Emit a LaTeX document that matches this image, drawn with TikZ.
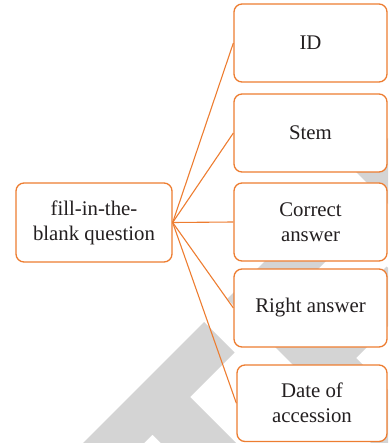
\documentclass[tikz,border=0pt]{standalone}
\usepackage{fontspec}
\setmainfont{Liberation Serif}
\definecolor{boxorange}{RGB}{237,125,49}
\definecolor{inkdark}{RGB}{35,31,32}
\definecolor{markgray}{RGB}{212,212,212}
\tikzset{
  itembox/.style={draw=boxorange, line width=1.3pt, fill=white, rounded corners=8pt,
    align=center, text=inkdark, inner sep=2pt,
    font=\fontsize{20.8pt}{25pt}\selectfont},
  link/.style={draw=boxorange, line width=1.1pt}
}
\begin{document}
\begin{tikzpicture}[x=1pt,y=-1pt]
\useasboundingbox (0,0) rectangle (388,443);
% faint lettering in the background
\begin{scope}
  \clip (0,0) rectangle (388,443);
  \fill[markgray] (-37,563) -- (204,322) -- (234.5,352.5) -- (190,397) -- (346.5,553.5)
    -- (309,591) -- (152.5,434.5) -- (-6.5,593.5) -- cycle;
  \fill[markgray] (227,299) -- (323,203) -- (353.5,233.5) -- (292.5,294.5) -- (325.5,327.5)
    -- (386.5,266.5) -- (417,297) -- (356,358) -- (451,453) -- (416,488) -- cycle;
  \fill[markgray] (355,171) -- (393,133) -- (600,340) -- (562,378) -- cycle;
\end{scope}
% boxes
\node[itembox, minimum width=156pt, minimum height=79pt] (root) at (94,222.5) {fill-in-the-\\blank question};
\node[itembox, minimum width=153pt, minimum height=78pt] (id) at (310.5,43) {ID};
\node[itembox, minimum width=153pt, minimum height=78pt] (stem) at (310.5,133) {Stem};
\node[itembox, minimum width=153pt, minimum height=78pt] (correct) at (310.5,222) {Correct\\answer};
\node[itembox, minimum width=153pt, minimum height=78pt] (right) at (310.5,308) {Right answer};
\node[itembox, minimum width=150pt, minimum height=76.5pt] (date) at (312,403.25) {Date of\\accession};
% connectors
\foreach \t in {id,stem,correct,right,date}
  \draw[link] (root.east) -- (\t.west);
\end{tikzpicture}
\end{document}
